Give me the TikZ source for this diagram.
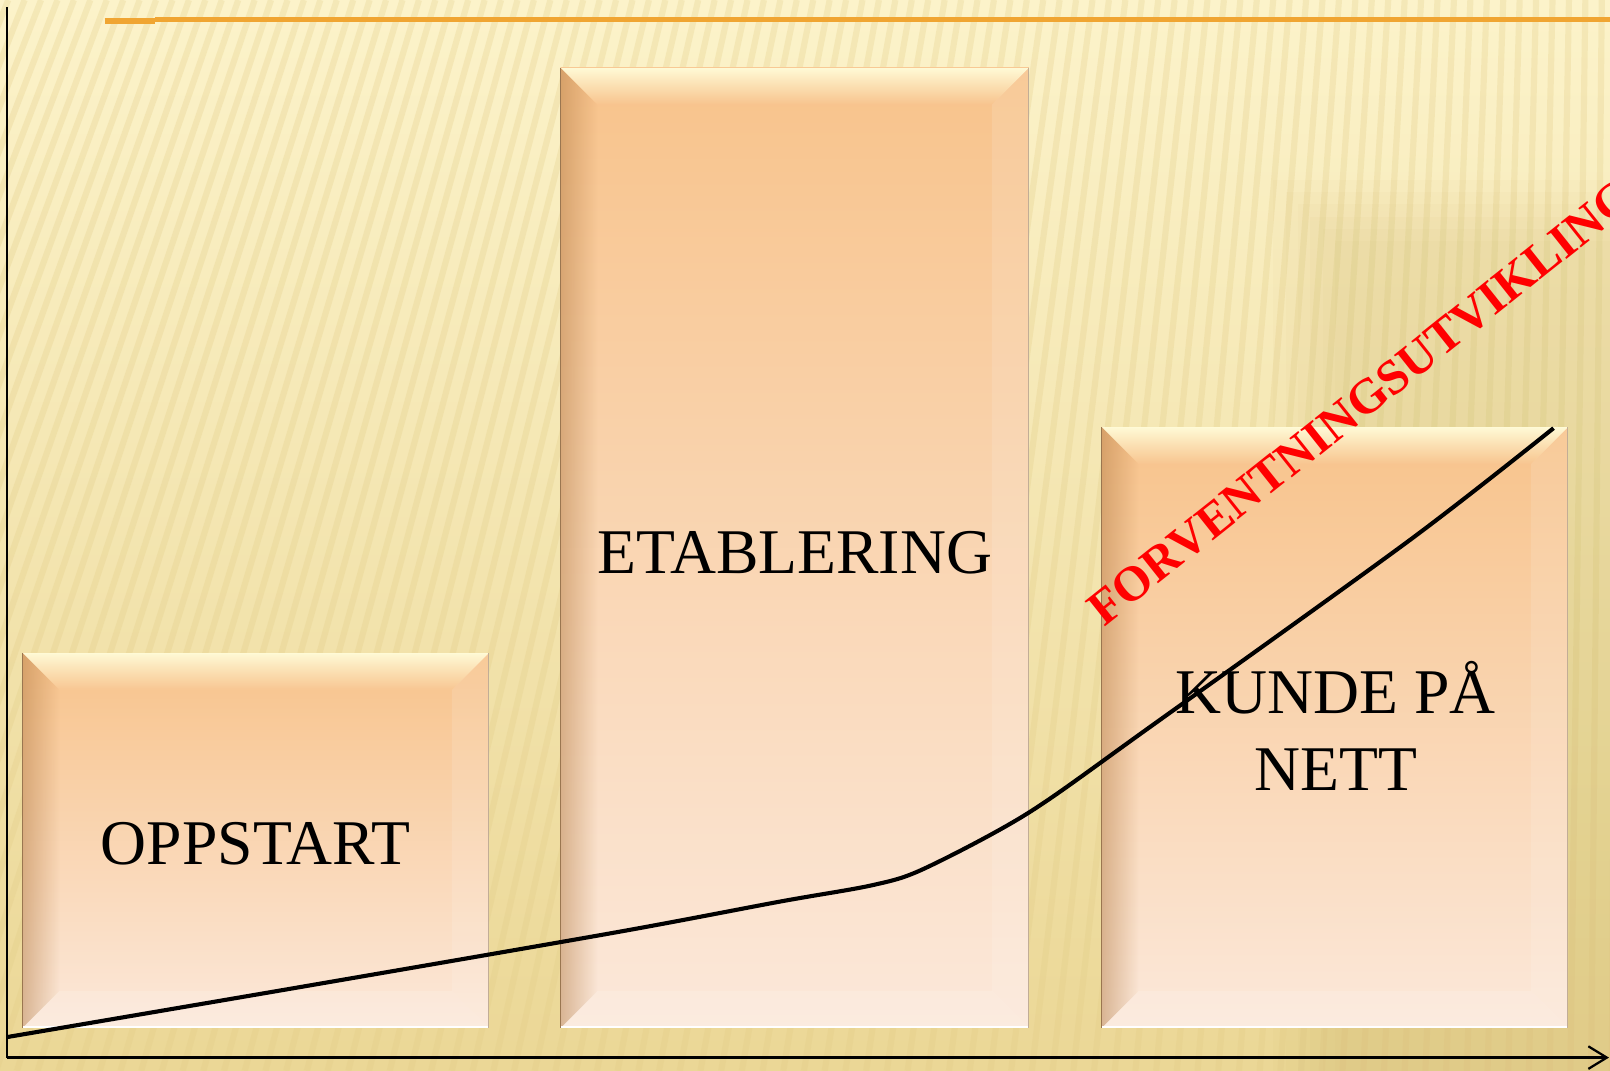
\documentclass[tikz,border=0pt]{standalone}
\usepackage{fontspec}
\setmainfont{Liberation Serif}
\usetikzlibrary{arrows.meta,fadings}
\definecolor{bgtop}{HTML}{FCF3CA}
\definecolor{bgmid}{HTML}{F9EBBC}
\definecolor{bgbot}{HTML}{EBD796}
\definecolor{stripec}{HTML}{E2CC86}
\definecolor{shadowc}{HTML}{C9AD5E}
\definecolor{orangeline}{HTML}{F0A532}
\definecolor{facetop}{HTML}{F8C38B}
\definecolor{facebot}{HTML}{FBE8DA}
\definecolor{hilite}{HTML}{FFFAD6}
\definecolor{bevdark}{HTML}{B07840}
\definecolor{bevline}{HTML}{9A7650}
\definecolor{redtext}{HTML}{FF0000}
\tikzset{
  stripe/.style={stripec, line width=3pt, opacity=0.28},
  axisline/.style={black, line width=1.1pt},
  trend/.style={black, line width=2pt},
  boxlabel/.style={font=\fontsize{31}{37.5}\selectfont, text=black, inner sep=0pt},
  redlabel/.style={font=\fontsize{24}{29}\selectfont\bfseries, text=redtext, inner sep=0pt}
}
\newcommand{\bevbox}[5]{%
  \shade[top color=facetop, bottom color=facebot] (#2,#3) rectangle (#4,#5);
  \fill[hilite, path fading=south] (#2,#3) -- (#4,#3) -- ({#4-36},{#3+36}) -- ({#2+36},{#3+36}) -- cycle;
  \fill[bevdark, fill opacity=0.45, path fading=east] (#2,#3) -- ({#2+36},{#3+36}) -- ({#2+36},{#5-36}) -- (#2,#5) -- cycle;
  \fill[white, fill opacity=0.12] (#4,#3) -- ({#4-36},{#3+36}) -- ({#4-36},{#5-36}) -- (#4,#5) -- cycle;
  \fill[white, fill opacity=0.15] (#2,#5) -- ({#2+36},{#5-36}) -- ({#4-36},{#5-36}) -- (#4,#5) -- cycle;
  \draw[white, line width=1.2pt] (#2,{#5-1}) -- (#4,{#5-1});
  \draw[bevline, line width=0.7pt] (#2,#3) -- (#2,#5);
  \draw[bevline!60, line width=0.5pt] (#4,#3) -- (#4,#5);
  \coordinate (#1) at ({(#2+#4)/2},{(#3+#5)/2});
}
\begin{document}
\begin{tikzpicture}[x=0.5pt,y=-0.5pt]
\useasboundingbox (0,0) rectangle (1568,1043);
\clip (0,0) rectangle (1568,1043);
% background
\shade[top color=bgtop, middle color=bgmid, bottom color=bgbot] (0,0) rectangle (1568,1043);
\foreach \xt in {-520,-504,...,1720} {
  \draw[stripe] (\xt,0) -- ({1600+(\xt-1600)*1.26075},1043);
}
\foreach \d in {0,12,24,36,48,60} {
  \fill[shadowc, opacity=0.04] ({1240+\d},{175+\d}) rectangle (1600,1100);
}
% top rule
\draw[orangeline, line width=2.9pt] (102,20.5) -- (151,20.5);
\draw[orangeline, line width=2.9pt] (151,19) -- (1570,19);
% boxes
\bevbox{b1}{22}{636}{476}{1001}
\bevbox{b2}{546}{66}{1002}{1001}
\bevbox{b3}{1073}{416}{1527}{1001}
% axes
\coordinate (origin) at (7,1030);
\coordinate (ytop) at (7,7);
\coordinate (xend) at (1567,1030);
\draw[axisline] (ytop) -- (origin);
\draw[axisline, -{Straight Barb[length=9pt,width=11pt,line width=1.1pt]}] (origin) -- (xend);
% trend curve
\draw[trend] plot[smooth, tension=0.5] coordinates {(7,1010) (300,960) (600,908) (760,878) (850,862) (900,846) (1001,792) (1120,708) (1373,526) (1513,417)};
% labels
\node[boxlabel, anchor=base] (oppstart) at (249,841.5) {OPPSTART};
\node[boxlabel, anchor=base] (etablering) at (774,558.4) {ETABLERING};
\node[boxlabel, anchor=base] (kunde) at (1301,694.5) {KUNDE PÅ};
\node[boxlabel, anchor=base] (nett) at (1301,769.5) {NETT};
\node[redlabel, anchor=base west, rotate=38.5] (forv) at (1075,611) {FORVENTNINGSUTVIKLING};
\end{tikzpicture}
\end{document}
